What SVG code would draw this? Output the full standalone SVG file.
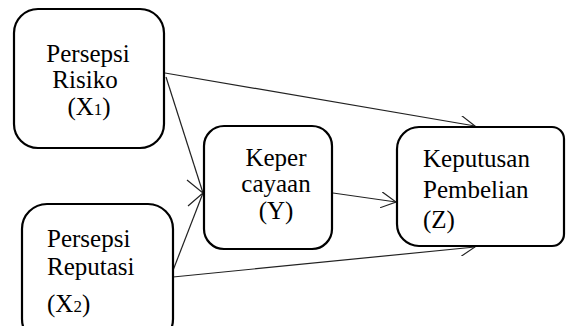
<svg xmlns="http://www.w3.org/2000/svg" width="566" height="326" viewBox="0 0 566 326">
<style>
.box{fill:#fff;stroke:#000;stroke-width:2.2}
.lbl{font-family:"Liberation Serif","Times New Roman",serif;font-size:25px;fill:#000}
.sub{font-size:17px}
.conn{fill:none;stroke:#222;stroke-width:1.2}
.head{fill:none;stroke:#222;stroke-width:1.2}
</style>
<defs>
<marker id="arr" viewBox="0 0 16 16" refX="15" refY="8" markerWidth="16" markerHeight="16" markerUnits="userSpaceOnUse" orient="auto">
<path d="M0,0 L15,8 L0,16" class="head"/>
</marker>
</defs>
<rect width="566" height="326" fill="#fff"/>
<g id="connectors">
<path class="conn" d="M165,73 L475,126" marker-end="url(#arr)"/>
<path class="conn" d="M166,77 L203,193"/>
<path class="conn" d="M172,273 L203,193"/>
<path class="head" d="M187,180 L203,193 L188,206"/>
<path class="conn" d="M173,277 L475,247" marker-end="url(#arr)"/>
<path class="conn" d="M333,193 L396,202" marker-end="url(#arr)"/>
</g>
<g id="x1">
<rect class="box" x="14" y="9" width="150" height="139" rx="24"/>
<text class="lbl" text-anchor="middle"><tspan x="88" y="62">Persepsi</tspan><tspan x="85" y="88">Risiko</tspan><tspan x="89" y="115">(X<tspan class="sub">1</tspan>)</tspan></text>
</g>
<g id="x2">
<rect class="box" x="22" y="204" width="151" height="140" rx="25"/>
<text class="lbl"><tspan x="47" y="247">Persepsi</tspan><tspan x="47" y="275">Reputasi</tspan><tspan x="47" y="312">(X<tspan class="sub">2</tspan>)</tspan></text>
</g>
<g id="y">
<rect class="box" x="204" y="126" width="128" height="123" rx="20"/>
<text class="lbl" text-anchor="middle"><tspan x="276" y="166">Keper</tspan><tspan x="276" y="192">cayaan</tspan><tspan x="276" y="219">(Y)</tspan></text>
</g>
<g id="z">
<path class="box" d="M419,127 H552 A12,12 0 0 1 564,139 V234 A12,12 0 0 1 552,246 H419 A22,22 0 0 1 397,224 V149 A22,22 0 0 1 419,127 Z"/>
<text class="lbl"><tspan x="423" y="167">Keputusan</tspan><tspan x="423" y="198">Pembelian</tspan><tspan x="423" y="228">(Z)</tspan></text>
</g>
</svg>
